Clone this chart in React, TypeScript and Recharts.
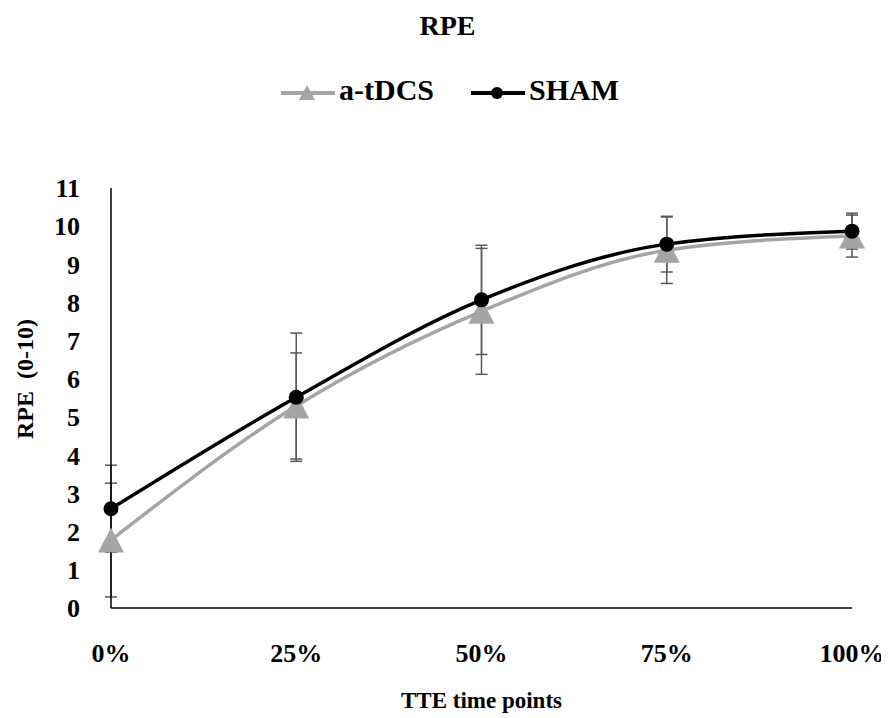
import { ErrorBar, Legend, Line, LineChart, XAxis, YAxis } from "recharts";

const categories = ["0%", "25%", "50%", "75%", "100%"];
const tdcsValues = [1.78, 5.29, 7.77, 9.37, 9.74];
const tdcsErrors = [1.49, 1.39, 1.65, 0.87, 0.55];
const shamValues = [2.6, 5.52, 8.07, 9.53, 9.87];
const shamErrors = [1.14, 1.68, 1.43, 0.73, 0.47];
const yTicks = [0, 1, 2, 3, 4, 5, 6, 7, 8, 9, 10, 11];

const FONT = "'Liberation Serif', 'Times New Roman', serif";
const GRAY = "#a5a5a5";
const ERR = "#595959";

const data = categories.map((name, i) => ({
  name,
  tdcs: tdcsValues[i],
  tdcsErr: tdcsErrors[i],
  sham: shamValues[i],
  shamErr: shamErrors[i],
}));

function Triangle({ cx, cy }: { cx?: number; cy?: number }) {
  if (cx == null || cy == null) return null;
  const w = 13;
  const h = 12.5;
  return <path d={`M${cx},${cy - h} L${cx + w},${cy + h} L${cx - w},${cy + h} Z`} fill={GRAY} />;
}

function Circle({ cx, cy }: { cx?: number; cy?: number }) {
  if (cx == null || cy == null) return null;
  return <circle cx={cx} cy={cy} r={7.5} fill="#000" />;
}

function LegendBox() {
  const text = {
    position: "absolute" as const,
    top: 0,
    lineHeight: "40px",
    fontSize: 30,
    fontWeight: 700,
    fontFamily: FONT,
    whiteSpace: "nowrap" as const,
  };
  return (
    <div style={{ position: "relative", width: 881, height: 40, color: "#000" }}>
      <svg style={{ position: "absolute", left: 273, top: 0 }} width={54} height={40}>
        <line x1={0} y1={23} x2={54} y2={23} stroke={GRAY} strokeWidth={4} />
        <path d="M26,15 L34,30 L18,30 Z" fill={GRAY} />
      </svg>
      <span style={{ ...text, left: 331 }}>a-tDCS</span>
      <svg style={{ position: "absolute", left: 463, top: 0 }} width={54} height={40}>
        <line x1={0} y1={23} x2={54} y2={23} stroke="#000" strokeWidth={4} />
        <circle cx={26} cy={23} r={6} fill="#000" />
      </svg>
      <span style={{ ...text, left: 521 }}>SHAM</span>
    </div>
  );
}

function YTitle(props: any) {
  const vb = props.viewBox || { x: 0, y: 0, width: 0, height: 0 };
  const x = 17;
  const y = vb.y + vb.height / 2 - 19;
  return (
    <text
      x={x}
      y={y}
      transform={`rotate(-90, ${x}, ${y})`}
      textAnchor="middle"
      dominantBaseline="central"
      fontFamily={FONT}
      fontWeight={700}
      fontSize={24}
      fill="#000"
    >
      RPE{"\u00a0\u00a0"}(0-10)
    </text>
  );
}

function XTitle(props: any) {
  const vb = props.viewBox || { x: 0, y: 0, width: 0, height: 0 };
  return (
    <text
      x={vb.x + vb.width / 2}
      y={700}
      textAnchor="middle"
      fontFamily={FONT}
      fontWeight={700}
      fontSize={23}
      fill="#000"
    >
      TTE time points
    </text>
  );
}

export default function App() {
  const tick = { fontFamily: FONT, fontWeight: 700, fontSize: 26, fill: "#000" };
  return (
    <div style={{ position: "relative", width: 881, height: 710, fontFamily: FONT }}>
      <div
        style={{
          position: "absolute",
          top: 4,
          left: 0,
          width: 879,
          textAlign: "center",
          fontSize: 28,
          lineHeight: "28px",
          fontWeight: 700,
          fontFamily: FONT,
        }}
      >
        RPE
      </div>
      <LineChart width={881} height={710} data={data} margin={{ top: 180, right: 37, bottom: 0, left: 0 }}>
        <XAxis
          dataKey="name"
          scale="point"
          padding={{ left: 0, right: 0 }}
          height={110}
          tickSize={0}
          tickMargin={36}
          tick={tick}
          stroke="#000"
          strokeWidth={1.5}
          interval={0}
          label={<XTitle />}
        />
        <YAxis
          domain={[0, 11]}
          ticks={yTicks}
          width={103}
          tickSize={0}
          tickMargin={31}
          tick={tick}
          stroke="#000"
          strokeWidth={1.5}
          interval={0}
          label={<YTitle />}
        />
        <Legend verticalAlign="middle" align="center" wrapperStyle={{ top: 62, left: 0, width: 881 }} content={<LegendBox />} />
        <Line
          type="monotone"
          dataKey="tdcs"
          name="a-tDCS"
          stroke={GRAY}
          strokeWidth={3.5}
          dot={<Triangle />}
          activeDot={false}
          isAnimationActive={false}
        >
          <ErrorBar dataKey="tdcsErr" direction="y" width={6} stroke={ERR} strokeWidth={1.5} />
        </Line>
        <Line
          type="monotone"
          dataKey="sham"
          name="SHAM"
          stroke="#000"
          strokeWidth={3.5}
          dot={<Circle />}
          activeDot={false}
          isAnimationActive={false}
        >
          <ErrorBar dataKey="shamErr" direction="y" width={6} stroke={ERR} strokeWidth={1.5} />
        </Line>
      </LineChart>
    </div>
  );
}
